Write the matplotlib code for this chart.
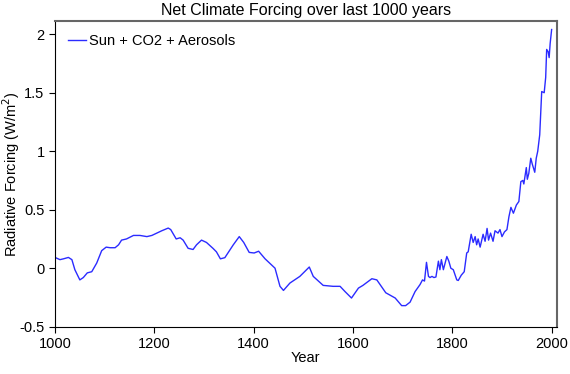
import numpy as np
import matplotlib.pyplot as plt
from matplotlib.ticker import FuncFormatter

plt.rcParams['font.family'] = ['Liberation Sans', 'DejaVu Sans']
plt.rcParams['axes.unicode_minus'] = False

# values
year = [1000, 1010, 1017, 1027, 1034, 1040, 1050, 1057, 1065, 1074, 1084, 1094,
        1103, 1111, 1121, 1128, 1134, 1144, 1158, 1171, 1185, 1195, 1205, 1215,
        1228, 1233, 1244, 1252, 1258, 1268, 1278, 1285, 1295, 1305, 1318, 1325,
        1333, 1342, 1352, 1359, 1371, 1380, 1391, 1401, 1410, 1423, 1443, 1453,
        1460, 1473, 1493, 1512, 1520, 1540, 1560, 1574, 1584, 1597, 1611, 1620,
        1638, 1648, 1666, 1685, 1698, 1706, 1715, 1725, 1735, 1740, 1744, 1748,
        1752, 1755, 1759, 1763, 1767, 1772, 1775, 1778, 1782, 1789, 1793, 1797,
        1802, 1809, 1812, 1818, 1824, 1829, 1832, 1838, 1842, 1846, 1849, 1852,
        1856, 1862, 1866, 1870, 1873, 1877, 1882, 1886, 1892, 1896, 1900, 1905,
        1910, 1914, 1918, 1923, 1929, 1934, 1938, 1942, 1944, 1949, 1951, 1954,
        1958, 1961, 1966, 1969, 1972, 1976, 1980, 1985, 1988, 1990, 1993, 1995,
        1997, 2000]
forcing = [0.092, 0.073, 0.08, 0.092, 0.073, -0.013, -0.1, -0.08, -0.04, -0.03,
           0.044, 0.15, 0.18, 0.175, 0.175, 0.2, 0.24, 0.25, 0.28, 0.28, 0.27,
           0.28, 0.30, 0.32, 0.343, 0.33, 0.25, 0.26, 0.24, 0.17, 0.16, 0.2, 0.24,
           0.22, 0.17, 0.14, 0.08, 0.09, 0.155, 0.2, 0.27, 0.22, 0.135, 0.13,
           0.145, 0.08, 0.0, -0.155, -0.19, -0.127, -0.07, 0.01, -0.07, -0.147,
           -0.155, -0.155, -0.2, -0.255, -0.17, -0.147, -0.09, -0.1, -0.21, -0.255,
           -0.32, -0.32, -0.29, -0.2, -0.14, -0.10, -0.11, 0.05, -0.07, -0.08,
           -0.07, -0.08, -0.075, 0.06, -0.013, 0.073, -0.013, 0.1, 0.06, 0.0,
           -0.013, -0.1, -0.105, -0.06, -0.03, 0.13, 0.14, 0.29, 0.22, 0.27, 0.2,
           0.25, 0.18, 0.29, 0.23, 0.34, 0.24, 0.3, 0.23, 0.32, 0.3, 0.33, 0.27,
           0.31, 0.33, 0.44, 0.52, 0.47, 0.54, 0.57, 0.74, 0.75, 0.72, 0.86, 0.76,
           0.81, 0.94, 0.89, 0.82, 0.94, 1.0, 1.14, 1.51, 1.5, 1.63, 1.87, 1.85,
           1.80, 1.92, 2.04]

fig = plt.figure(figsize=(5.7, 3.74), dpi=100)
ax = fig.add_axes([0.0965, 0.1265, 0.88, 0.818])

ax.plot(year, forcing, color='#2b2bff', lw=1.0, label='Sun + CO2 + Aerosols')

ax.set_xlim(1000, 2010)
ax.set_ylim(-0.5, 2.115)
ax.set_xticks([1000, 1200, 1400, 1600, 1800, 2000])
ax.set_yticks([-0.5, 0, 0.5, 1, 1.5, 2])
ax.yaxis.set_major_formatter(FuncFormatter(lambda v, p: '{:g}'.format(v)))
ax.tick_params(labelsize=10.5, length=4, direction='out', top=False, right=False)

ax.set_title('Net Climate Forcing over last 1000 years', fontsize=11.5, pad=4)
ax.set_xlabel('Year', fontsize=10.5, labelpad=0)
ax.set_ylabel('Radiative Forcing (W/m$^2$)', fontsize=10.5)
ax.yaxis.set_label_coords(-0.066, 0.5)

for s in ['top', 'right']:
    ax.spines[s].set_color('#666666')
    ax.spines[s].set_linewidth(1.5)

ax.legend(loc='upper left', frameon=False, fontsize=10.5, handlelength=1.2,
          handletextpad=0.2, borderaxespad=0.5)

plt.savefig('out.png', dpi=100)
